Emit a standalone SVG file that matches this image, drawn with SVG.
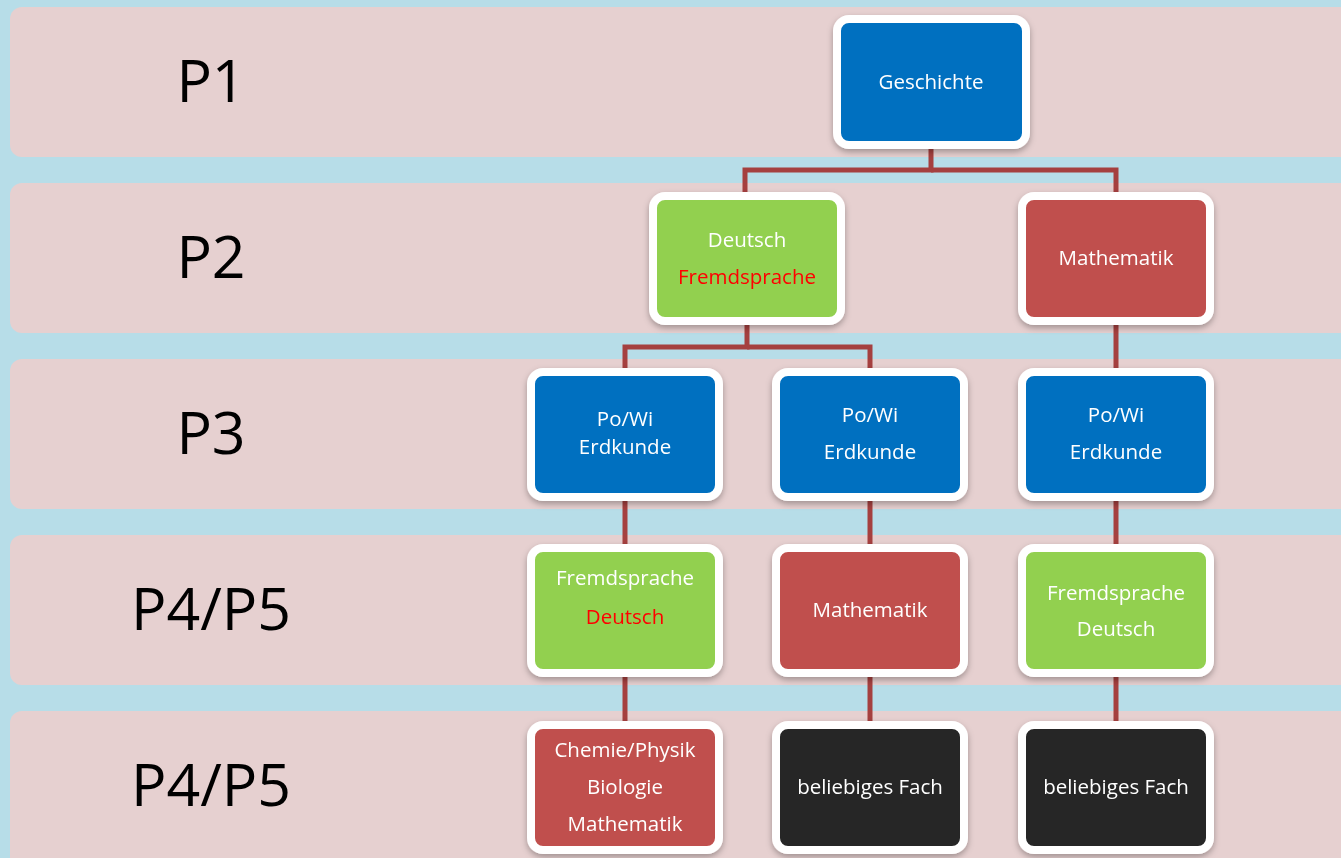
<svg xmlns="http://www.w3.org/2000/svg" width="1341" height="858" viewBox="0 0 1341 858">
<defs>
<style>
.band{fill:#e6d0d0}
.lbl{font-family:"Open Sans","Noto Sans",sans-serif;font-size:59px;fill:#000;text-anchor:middle}
.box{stroke:#fff;stroke-width:8}
.blue{fill:#0070c0}.green{fill:#92d050}.red{fill:#c0504d}.black{fill:#262626}
.t{font-family:"Open Sans","Noto Sans",sans-serif;font-size:20.5px;fill:#fff;text-anchor:middle}
.rt{fill:#ff0000}
.con{stroke:#a5403f;stroke-width:5;fill:none}
</style>
<filter id="sh" x="-10%" y="-10%" width="120%" height="125%">
<feDropShadow dx="0" dy="3" stdDeviation="3" flood-color="#000" flood-opacity="0.3"/>
</filter>
</defs>
<rect width="1341" height="858" fill="#b7dde8"/>
<g id="bands">
<rect class="band" x="10" y="7" width="1350" height="150" rx="12"/>
<rect class="band" x="10" y="183" width="1350" height="150" rx="12"/>
<rect class="band" x="10" y="359" width="1350" height="150" rx="12"/>
<rect class="band" x="10" y="535" width="1350" height="150" rx="12"/>
<rect class="band" x="10" y="711" width="1350" height="160" rx="12"/>
<text class="lbl" x="211" y="102">P1</text>
<text class="lbl" x="211" y="278">P2</text>
<text class="lbl" x="211" y="454">P3</text>
<text class="lbl" x="211" y="630">P4/P5</text>
<text class="lbl" x="211" y="806">P4/P5</text>
</g>
<g id="connectors">
<polyline class="con" points="931,149 931,170 745,170 745,192"/>
<polyline class="con" points="931,170 1116,170 1116,192"/>
<polyline class="con" points="747,325 747,347 625,347 625,368"/>
<polyline class="con" points="747,347 870,347 870,368"/>
<line class="con" x1="1116" y1="325" x2="1116" y2="368"/>
<line class="con" x1="625" y1="501" x2="625" y2="544"/>
<line class="con" x1="870" y1="501" x2="870" y2="544"/>
<line class="con" x1="1116" y1="501" x2="1116" y2="544"/>
<line class="con" x1="625" y1="677" x2="625" y2="721"/>
<line class="con" x1="870" y1="677" x2="870" y2="721"/>
<line class="con" x1="1116" y1="677" x2="1116" y2="721"/>
</g>
<g id="geschichte" filter="url(#sh)">
<rect class="box blue" x="837" y="19" width="189" height="126" rx="12"/>
<text class="t" x="931" y="89">Geschichte</text>
</g>
<g id="deutsch-p2" filter="url(#sh)">
<rect class="box green" x="653" y="196" width="188" height="125" rx="12"/>
<text class="t" x="747" y="247">Deutsch</text>
<text class="t rt" x="747" y="284">Fremdsprache</text>
</g>
<g id="mathe-p2" filter="url(#sh)">
<rect class="box red" x="1022" y="196" width="188" height="125" rx="12"/>
<text class="t" x="1116" y="265">Mathematik</text>
</g>
<g id="p3-1" filter="url(#sh)">
<rect class="box blue" x="531" y="372" width="188" height="125" rx="12"/>
<text class="t" x="625" y="426">Po/Wi</text>
<text class="t" x="625" y="454">Erdkunde</text>
</g>
<g id="p3-2" filter="url(#sh)">
<rect class="box blue" x="776" y="372" width="188" height="125" rx="12"/>
<text class="t" x="870" y="422">Po/Wi</text>
<text class="t" x="870" y="459">Erdkunde</text>
</g>
<g id="p3-3" filter="url(#sh)">
<rect class="box blue" x="1022" y="372" width="188" height="125" rx="12"/>
<text class="t" x="1116" y="422">Po/Wi</text>
<text class="t" x="1116" y="459">Erdkunde</text>
</g>
<g id="p4-1" filter="url(#sh)">
<rect class="box green" x="531" y="548" width="188" height="125" rx="12"/>
<text class="t" x="625" y="585">Fremdsprache</text>
<text class="t rt" x="625" y="624">Deutsch</text>
</g>
<g id="p4-2" filter="url(#sh)">
<rect class="box red" x="776" y="548" width="188" height="125" rx="12"/>
<text class="t" x="870" y="617">Mathematik</text>
</g>
<g id="p4-3" filter="url(#sh)">
<rect class="box green" x="1022" y="548" width="188" height="125" rx="12"/>
<text class="t" x="1116" y="600">Fremdsprache</text>
<text class="t" x="1116" y="636">Deutsch</text>
</g>
<g id="p5-1" filter="url(#sh)">
<rect class="box red" x="531" y="725" width="188" height="125" rx="12"/>
<text class="t" x="625" y="757">Chemie/Physik</text>
<text class="t" x="625" y="794">Biologie</text>
<text class="t" x="625" y="831">Mathematik</text>
</g>
<g id="p5-2" filter="url(#sh)">
<rect class="box black" x="776" y="725" width="188" height="125" rx="12"/>
<text class="t" x="870" y="794">beliebiges Fach</text>
</g>
<g id="p5-3" filter="url(#sh)">
<rect class="box black" x="1022" y="725" width="188" height="125" rx="12"/>
<text class="t" x="1116" y="794">beliebiges Fach</text>
</g>
</svg>
